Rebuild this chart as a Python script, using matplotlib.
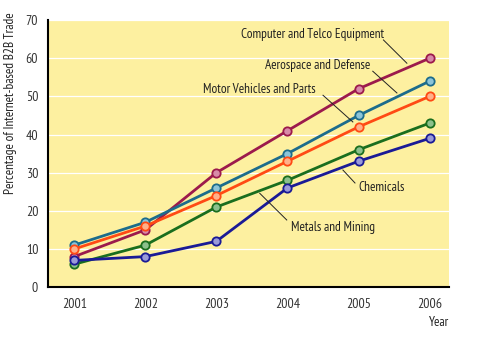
import matplotlib
matplotlib.use("Agg")
import matplotlib.pyplot as plt

years = [2001, 2002, 2003, 2004, 2005, 2006]
computer = [8, 15, 30, 41, 52, 60]
aerospace = [11, 17, 26, 35, 45, 54]
motor = [10, 16, 24, 33, 42, 50]
metals = [6, 11, 21, 28, 36, 43]
chemicals = [7, 8, 12, 26, 33, 39]

names = ["Computer and Telco Equipment", "Aerospace and Defense",
         "Motor Vehicles and Parts", "Metals and Mining", "Chemicals"]

plt.rcParams["font.family"] = ["PT Sans Narrow", "DejaVu Sans"]

fig = plt.figure(figsize=(4.79, 3.41), dpi=100)
ax = fig.add_axes([0.100, 0.158, 0.837, 0.783])
ax.set_facecolor("#fdf0a0")

series = [
    (computer, "#9c1a4c", "#d88aa8"),
    (aerospace, "#1c6c8c", "#8cc4d8"),
    (motor, "#ff4a14", "#ffb08a"),
    (metals, "#1a6e1e", "#8cc08c"),
    (chemicals, "#1a1a96", "#9a9ad8"),
]
for vals, col, face in series:
    ax.plot(years, vals, color=col, lw=2.0, marker="o", ms=6,
            mfc=face, mec=col, mew=1.3, zorder=3)

ax.set_xlim(2000.63, 2006.27)
ax.set_ylim(0, 70)
ax.set_xticks(years)
ax.set_yticks(range(0, 71, 10))
ax.tick_params(length=0, labelsize=10, colors="#333333")
ax.tick_params(axis="x", pad=8)
ax.tick_params(axis="y", pad=7)
ax.yaxis.grid(True, color="white", lw=0.9)
ax.set_axisbelow(True)
for s in ["top", "right"]:
    ax.spines[s].set_visible(False)
ax.spines["left"].set_linewidth(1.5)
ax.spines["bottom"].set_linewidth(1.5)
ax.set_ylabel("Percentage of Internet-based B2B Trade", fontsize=9.5, color="#222222")
ax.yaxis.set_label_coords(-0.078, 0.69)
fig.text(0.937, 0.035, "Year", ha="right", va="bottom", fontsize=9.5, color="#222222")

# label text and leader lines
labels = [
    (names[0], (2004.36, 66.1), (2005.35, 64.8), (2005.68, 58.7)),
    (names[1], (2004.43, 58.2), (2005.20, 56.6), (2005.54, 50.9)),
    (names[2], (2003.61, 51.9), (2004.50, 50.3), (2004.92, 43.3)),
    (names[4], (2005.33, 26.0), (2004.78, 30.7), (2004.95, 27.3)),
    (names[3], (2004.64, 15.5), (2003.61, 24.6), (2003.99, 17.6)),
]
for txt, pos, p0, p1 in labels:
    ax.text(pos[0], pos[1], txt, ha="center", va="center", fontsize=9.5,
            color="#222222", zorder=4)
    ax.plot([p0[0], p1[0]], [p0[1], p1[1]], color="#222222", lw=0.7, zorder=4)

fig.savefig("out.png", dpi=100)
